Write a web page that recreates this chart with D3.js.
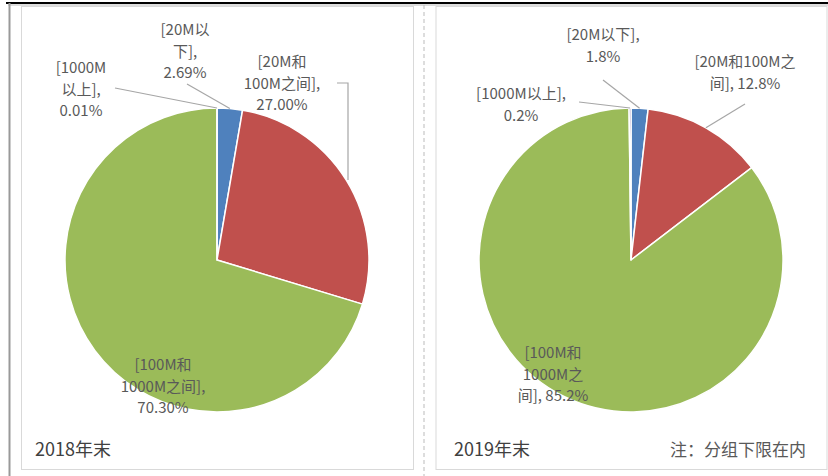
<!DOCTYPE html>
<html><head><meta charset="utf-8">
<script src="https://cdn.jsdelivr.net/npm/d3@7/dist/d3.min.js"></script>
<style>
html,body{margin:0;padding:0;background:#fff;}
svg{display:block;font-family:"Noto Sans CJK SC","Noto Sans",sans-serif;}
</style></head>
<body>
<svg id="c" width="828" height="476"></svg>
<script>
// ---- data ----
const categories = ["20M以下", "20M和100M之间", "100M和1000M之间", "1000M以上"];
const values2018 = [2.69, 27.00, 70.30, 0.01];
const values2019 = [1.8, 12.8, 85.2, 0.2];
const pctLabels2018 = ["2.69%", "27.00%", "70.30%", "0.01%"];
const pctLabels2019 = ["1.8%", "12.8%", "85.2%", "0.2%"];
const labelLines2018 = [["[20M以", "下],", "2.69%"], ["[20M和", "100M之间],", "27.00%"], ["[100M和", "1000M之间],", "70.30%"], ["[1000M", "以上],", "0.01%"]];
const labelLines2019 = [["[20M以下],", "1.8%"], ["[20M和100M之", "间], 12.8%"], ["[100M和", "1000M之", "间], 85.2%"], ["[1000M以上],", "0.2%"]];
const panelTitles = ["2018年末", "2019年末"];
const noteText = "注：分组下限在内";
const colors = ["#4F81BD", "#C0504D", "#9BBB59", "#8064A2"];

// ---- layout ----
const svg = d3.select("#c");
const R = 152;
const panels = [
  {cx: 217, cy: 260, values: values2018, lines: labelLines2018, title: panelTitles[0], titleX: 35,
   labels: [
     {x: 185, y: 30, leader: [[187, 84]]},
     {x: 282, y: 62, leader: [[337, 83], [348, 83], [348, 0]]},
     {x: 163, y: 365, leader: null},
     {x: 81, y: 68, leader: [[115, 88]]}
   ]},
  {cx: 631, cy: 260, values: values2019, lines: labelLines2019, title: panelTitles[1], titleX: 454,
   labels: [
     {x: 603, y: 35, leader: [[603, 80]]},
     {x: 745, y: 62, leader: [[745, 104]]},
     {x: 553, y: 353, leader: null},
     {x: 521, y: 94, leader: [[579, 102]]}
   ]}
];

// frame
svg.append("line").attr("x1", 6).attr("x2", 828).attr("y1", 3).attr("y2", 3).attr("stroke", "#000").attr("stroke-width", 2);
svg.append("line").attr("x1", 8).attr("x2", 828).attr("y1", 5).attr("y2", 5).attr("stroke", "#bbb").attr("stroke-width", 1);
svg.append("line").attr("x1", 9.5).attr("x2", 9.5).attr("y1", 3).attr("y2", 476).attr("stroke", "#999").attr("stroke-width", 2);
svg.append("rect").attr("x", 21.5).attr("y", 6.5).attr("width", 392).attr("height", 463).attr("fill", "none").attr("stroke", "#d9d9d9");
svg.append("line").attr("x1", 424).attr("x2", 424).attr("y1", 5).attr("y2", 476).attr("stroke", "#bbb").attr("stroke-dasharray", "4,3");
svg.append("rect").attr("x", 436).attr("y", 6.5).attr("width", 391).attr("height", 463).attr("fill", "none").attr("stroke", "#d9d9d9");

const pie = d3.pie().sort(null).value(d => d);
const arc = d3.arc().innerRadius(0).outerRadius(R);
const edge = d3.arc().innerRadius(R).outerRadius(R);

panels.forEach(p => {
  const g = svg.append("g").attr("transform", `translate(${p.cx},${p.cy})`);
  const arcs = pie(p.values);
  g.selectAll("path").data(arcs).join("path")
    .attr("d", arc)
    .attr("fill", (d, i) => colors[i])
    .attr("stroke", "#fff").attr("stroke-width", 1.5).attr("stroke-linejoin", "round");

  // leader lines
  arcs.forEach((a, i) => {
    const lab = p.labels[i];
    if (!lab.leader) return;
    const c = edge.centroid(a);
    const end = [p.cx + c[0], p.cy + c[1]];
    const pts = lab.leader.map(pt => pt.slice());
    const last = pts[pts.length - 1];
    if (last[1] === 0) { last[1] = end[1]; }
    else pts.push(end);
    svg.append("path").attr("d", d3.line()(pts))
      .attr("fill", "none").attr("stroke", "#a6a6a6").attr("stroke-width", 1.2);
  });

  // labels
  arcs.forEach((a, i) => {
    const lab = p.labels[i];
    const t = svg.append("text").attr("text-anchor", "middle")
      .attr("fill", "#595959").attr("font-size", 15);
    p.lines[i].forEach((ln, k) => {
      t.append("tspan").attr("x", lab.x).attr("y", lab.y + k * 21.5).attr("dy", "0.36em").text(ln);
    });
  });

  svg.append("text").attr("x", p.titleX).attr("y", 450).attr("dy", "0.36em")
    .attr("fill", "#404040").attr("font-size", 18).text(p.title);
});

svg.append("text").attr("x", 806).attr("y", 450).attr("dy", "0.36em").attr("text-anchor", "end")
  .attr("fill", "#595959").attr("font-size", 17).text(noteText);
</script>
</body></html>
